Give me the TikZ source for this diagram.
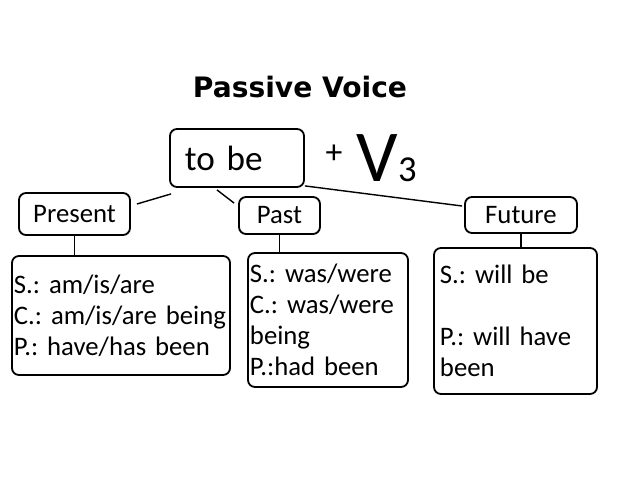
\documentclass[tikz,border=0pt]{standalone}
\usepackage{fontspec}
\setmainfont{Carlito}
\newfontfamily\titlefont{DejaVu Sans}
\usepackage{tikz}
\usetikzlibrary{positioning}
\frenchspacing
\hyphenpenalty=10000

\begin{document}
\begin{tikzpicture}[x=0.025cm,y=-0.025cm,line width=1pt]
\tikzstyle{every node}=[text=black]
\tikzstyle{tense}=[draw=black,line width=1.3pt,rounded corners=5pt,inner sep=0pt,font=\fontsize{19}{22}\selectfont]
\tikzstyle{usage}=[tense,align=left,inner xsep=1pt]
\useasboundingbox (0,0) rectangle (640,480);
\node[font=\titlefont\bfseries\fontsize{20}{22}\selectfont] (title) at (300,87) {Passive Voice};
\node[tense,minimum width=3.35cm,minimum height=1.45cm,text width=2.6cm,align=left,font=\fontsize{25}{25}\selectfont] (tobe) at (237,158) {to be};
\node[anchor=west,inner sep=0pt] (verb) at (325,158) {\raisebox{13pt}{\fontsize{24}{24}\selectfont +}\hspace{10pt}{\fontsize{52}{52}\selectfont V}{\fontsize{26}{26}\selectfont 3}};
\node[tense,minimum width=2.775cm,minimum height=1.05cm] (present) at (74.5,214) {Present};
\node[tense,minimum width=2.025cm,minimum height=0.925cm] (past) at (279.5,215.5) {Past};
\node[tense,minimum width=2.8cm,minimum height=0.9cm] (future) at (521,215) {Future};
\node[usage,minimum width=5.45cm,minimum height=2.975cm,text width=5.35cm] (presentd) at (121,315.5) {S.: am/is/are\\C.: am/is/are being\\P.: have/has been};
\node[usage,minimum width=4cm,minimum height=3.35cm,text width=3.9cm] (pastd) at (328,320) {S.: was/were\\C.: was/were\\being\\P.:had been};
\node[usage,minimum width=4.075cm,minimum height=3.65cm,text width=3.775cm] (futured) at (515.5,321) {S.: will be\\[22pt]P.: will have\\been};
\draw ([shift={(2,6)}]tobe.south west) -- ([shift={(6,-10)}]present.east);
\draw ([shift={(-20,2)}]tobe.south) -- ([shift={(-4,7)}]past.north west);
\draw ([shift={(0,-2)}]tobe.south east) -- ([shift={(-2,-9)}]future.west);
\draw (present.south) -- (present.south |- presentd.north);
\draw (past.south) -- (past.south |- pastd.north);
\draw (future.south) -- (future.south |- futured.north);
\end{tikzpicture}
\end{document}
